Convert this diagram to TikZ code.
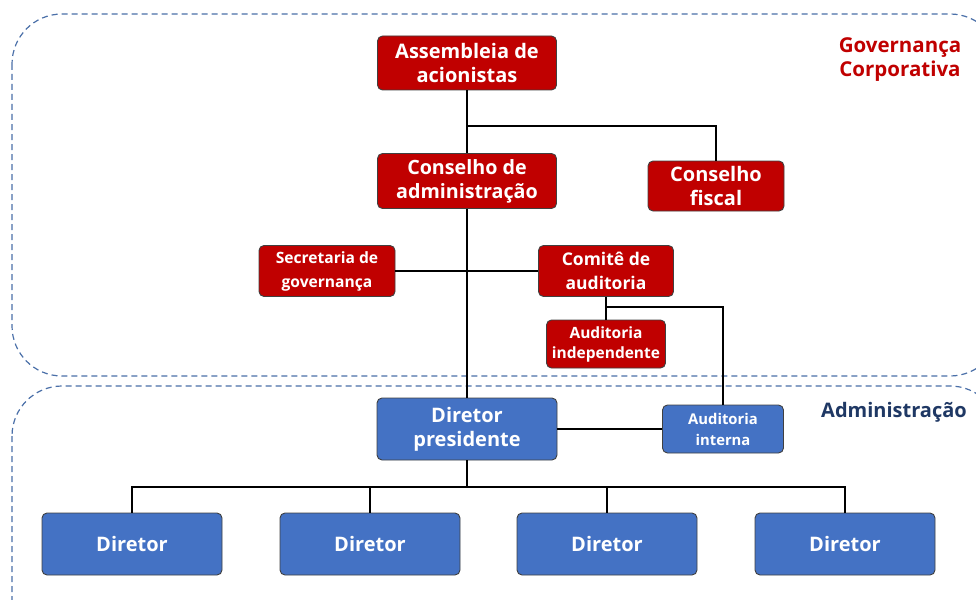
\documentclass[tikz,border=0pt]{standalone}
\usepackage{fontspec}
\setmainfont{Open Sans}
\usetikzlibrary{positioning}

\definecolor{govred}{HTML}{C00000}
\definecolor{admblue}{HTML}{4472C4}
\definecolor{regionline}{HTML}{4A6FA8}
\definecolor{admnavy}{HTML}{1F3864}

\begin{document}
\begin{tikzpicture}[
    x = 1pt, y = -1pt,
    govbox/.style = {
      draw = black!75,
      fill = govred,
      rounded corners = 5pt,
      line width = 0.9pt,
      text = white,
      align = center,
      inner sep = 0pt,
      font = \bfseries\fontsize{20}{24}\selectfont,
    },
    admbox/.style = {
      govbox,
      fill = admblue,
    },
    region/.style = {
      draw = regionline,
      dash pattern = on 6pt off 4pt,
      line width = 1.2pt,
      rounded corners = 50pt,
    },
    link/.style = {draw, line width = 1.3pt},
  ]
  \useasboundingbox (0,0) rectangle (976,599);

  % dashed areas
  \begin{scope}
    \clip (0,0) rectangle (976,599);
    \draw [region] (12,14)  rectangle (1000,376);
    \draw [region] (12,386) rectangle (1000,650);
  \end{scope}

  \node [text = govred, align = center,
    font = \bfseries\fontsize{20.5}{24}\selectfont] (gov label) at (900,60) {Governança\\Corporativa};
  \node [text = admnavy,
    font = \bfseries\fontsize{20}{24}\selectfont] (adm label) at (894,412) {Administração};

  % board side
  \node [govbox, minimum width = 179, minimum height = 54] (assembleia) at (467,63)
    {Assembleia de\\acionistas};
  \node [govbox, minimum width = 179, minimum height = 55,
    font = \bfseries\fontsize{19.7}{24}\selectfont] (conselho adm) at (467,181)
    {Conselho de\\administração};
  \node [govbox, minimum width = 136, minimum height = 50] (conselho fiscal) at (716,186)
    {Conselho\\fiscal};
  \node [govbox, minimum width = 136, minimum height = 51,
    font = \bfseries\fontsize{15.6}{24}\selectfont] (secretaria) at (327,271)
    {Secretaria de\\governança};
  \node [govbox, minimum width = 135, minimum height = 51,
    font = \bfseries\fontsize{17.5}{24}\selectfont] (comite) at (606,271)
    {Comitê de\\auditoria};
  \node [govbox, minimum width = 119, minimum height = 48,
    font = \bfseries\fontsize{15.5}{20}\selectfont] (aud indep) at (606,344)
    {Auditoria\\independente};

  % executive side
  \node [admbox, minimum width = 180, minimum height = 62,
    font = \bfseries\fontsize{20}{24}\selectfont] (presidente) at (467,429)
    {Diretor\\presidente};
  \node [admbox, minimum width = 121, minimum height = 48,
    font = \bfseries\fontsize{14.8}{21}\selectfont] (aud interna) at (723,429)
    {Auditoria\\interna};

  \foreach \i/\x in {1/132, 2/370, 3/607, 4/845}
    \node [admbox, minimum width = 180, minimum height = 62,
      font = \bfseries\fontsize{20}{24}\selectfont] (diretor \i) at (\x,544) {Diretor};

  % connectors
  \coordinate (split top)   at (467,126);
  \coordinate (split audit) at (606,307);
  \coordinate (split dir)   at (467,487);

  \draw [link] (assembleia) to (conselho adm);
  \draw [link] (split top) -| (conselho fiscal);
  \draw [link] (conselho adm) to (presidente);
  \draw [link] (secretaria) to (comite);
  \draw [link] (comite) to (aud indep);
  \draw [link] (split audit) -| (aud interna);
  \draw [link] (presidente) to (aud interna);
  \draw [link] (presidente) to (split dir);
  \foreach \i in {1, ..., 4}
    \draw [link] (split dir) -| (diretor \i);
\end{tikzpicture}
\end{document}
